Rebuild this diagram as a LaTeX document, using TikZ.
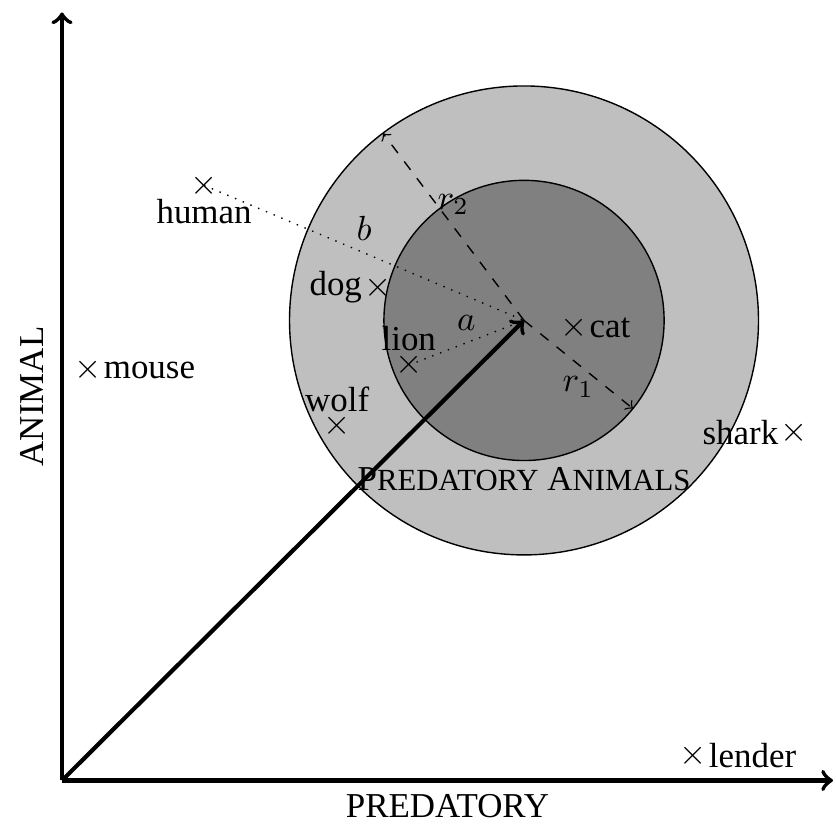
\documentclass[tikz,border=0pt]{standalone}
\usepackage{fontspec}
\setmainfont{Liberation Serif}
\usetikzlibrary{calc}

\begin{document}
\begin{tikzpicture}[>=to,very thick,
	  point/.style={inner sep=0pt},
	  every label/.style={inner sep=0pt},
	  label distance=-0.5pt,
	  radius line/.style={thin,dashed,->},
	  distance line/.style={thin,dotted}]

	 \useasboundingbox (-0.624,-0.433) rectangle (7.79,7.855);
	 \coordinate (O) at (0,0);
	 \coordinate (C) at (4.65,4.63);
	 \coordinate (xend) at (7.76,0);
	 \coordinate (yend) at (0,7.73);

	 % class regions
	 \filldraw[thin,fill=lightgray] (C) circle (2.36);
	 \filldraw[thin,fill=gray] (C) circle (1.41);
	 \node (class) at ($ (C) + (270:1.60) $) {P{\fontsize{8.8}{10}\selectfont REDATORY} A{\fontsize{8.8}{10}\selectfont NIMALS}};

	 % axes
	 \draw[->] (O) -- (xend) node[midway,below] {PREDATORY};
	 \draw[->] (O) -- (yend) node[midway,above,sloped,yshift=1.5pt] {ANIMAL};

	 % words
	 \node[point,label=below:human] (human) at (1.43,5.99) {$\times$};
	 \node[point,label=left:dog] (dog) at (3.18,4.96) {$\times$};
	 \node[point,label=above:lion] (lion) at (3.49,4.18) {$\times$};
	 \node[point,label=above:wolf] (wolf) at (2.77,3.57) {$\times$};
	 \node[point,label=right:cat] (cat) at (5.15,4.56) {$\times$};
	 \node[point,label=right:mouse] (mouse) at (0.26,4.13) {$\times$};
	 \node[point,label=left:shark] (shark) at (7.37,3.50) {$\times$};
	 \node[point,label=right:lender] (lender) at (6.35,0.25) {$\times$};

	 \coordinate (r2end) at ($ (C) + (127:2.36) $);
	 \coordinate (r1end) at ($ (C) + (-39:1.41) $);
	 \draw[radius line] (C) -- (r2end) node[midway,above] {$r_2$};
	 \draw[radius line] (C) -- (r1end) node[midway,below] {$r_1$};
	 \draw[distance line] (human.center) -- (C) node[midway,above] {$b$};
	 \draw[distance line] (lion.center) -- (C) node[midway,above] {$a$};

	 \draw[->] (O) -- (C);
\end{tikzpicture}
\end{document}
